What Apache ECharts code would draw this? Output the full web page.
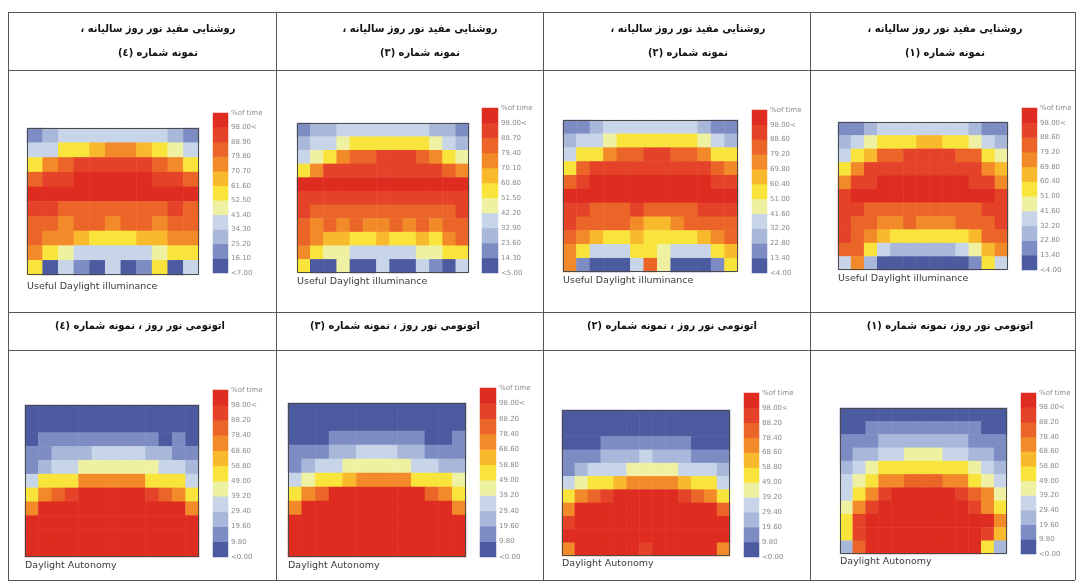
<!DOCTYPE html>
<html>
<head>
<meta charset="utf-8">
<script src="https://cdn.jsdelivr.net/npm/echarts@6/dist/echarts.min.js"></script>
<style>
html, body { margin: 0; padding: 0; background: #fff; }
#chart { width: 1078px; height: 582px; }
</style>
</head>
<body>
<div id="chart"></div>
<script>
// ---- colour scale, shared by every map (lowest band first) ----
const bandColors = ['#4c5aa0', '#7d8dc4', '#a9b8da', '#c8d5e8', '#eef0a2', '#f9e43b',
                    '#f8b92c', '#f28a2a', '#ec6528', '#e5422a', '#df2c20'];

// ---- legend scales (% of occupied hours), bottom to top ----
const udiScale4 = ['<7.00', '16.10', '25.20', '34.30', '43.40', '52.50', '61.60', '70.70', '79.80', '88.90', '98.00<'];
const udiScale3 = ['<5.00', '14.30', '23.60', '32.90', '42.20', '51.50', '60.80', '70.10', '79.40', '88.70', '98.00<'];
const udiScale2 = ['<4.00', '13.40', '22.80', '32.20', '41.60', '51.00', '60.40', '69.80', '79.20', '88.60', '98.00<'];
const udiScale1 = ['<4.00', '13.40', '22.80', '32.20', '41.60', '51.00', '60.40', '69.80', '79.20', '88.60', '98.00<'];
const daScale = ['<0.00', '9.80', '19.60', '29.40', '39.20', '49.00', '58.80', '68.60', '78.40', '88.20', '98.00<'];

// ---- Useful Daylight Illuminance, % of time per sensor (rows from window side) ----
const udi4 = [
  [21, 30, 39, 40, 41, 42, 41, 40, 38, 31, 20],
  [38, 41, 57, 59, 66, 73, 76, 68, 58, 49, 40],
  [58, 76, 85, 92, 94, 95, 95, 93, 86, 77, 60],
  [84, 92, 95, 99, 99, 99, 99, 99, 96, 92, 85],
  [99, 99, 99, 99, 99, 99, 99, 99, 99, 99, 99],
  [92, 91, 86, 85, 84, 84, 85, 84, 86, 90, 87],
  [85, 83, 78, 82, 81, 77, 81, 82, 78, 84, 83],
  [82, 77, 74, 68, 60, 58, 59, 67, 70, 76, 78],
  [74, 58, 48, 40, 38, 38, 39, 40, 48, 58, 57],
  [56, 6, 38, 20, 5, 40, 5, 21, 57, 6, 39]
];
const udi3 = [
  [19, 27, 30, 36, 38, 40, 39, 38, 37, 36, 30, 27, 18],
  [28, 37, 40, 48, 55, 57, 58, 57, 56, 53, 47, 39, 29],
  [38, 48, 57, 76, 84, 86, 90, 91, 89, 85, 76, 57, 47],
  [56, 77, 92, 94, 95, 96, 96, 96, 95, 94, 92, 84, 76],
  [99, 99, 99, 99, 99, 99, 99, 99, 99, 99, 99, 99, 99],
  [95, 96, 95, 95, 96, 96, 97, 96, 96, 95, 95, 96, 95],
  [89, 87, 84, 83, 82, 83, 84, 83, 82, 83, 84, 86, 89],
  [84, 78, 80, 78, 80, 77, 76, 80, 77, 80, 78, 82, 85],
  [82, 75, 67, 64, 58, 57, 63, 58, 57, 63, 59, 74, 81],
  [76, 56, 47, 45, 38, 37, 36, 37, 38, 44, 46, 55, 57],
  [55, 6, 7, 47, 5, 6, 38, 6, 7, 37, 18, 6, 38]
];
const udi2 = [
  [17, 20, 28, 36, 38, 39, 40, 39, 38, 36, 29, 19, 17],
  [28, 36, 38, 46, 54, 56, 57, 57, 56, 54, 46, 38, 29],
  [37, 55, 57, 75, 84, 86, 90, 90, 86, 84, 75, 56, 54],
  [56, 84, 92, 94, 95, 95, 96, 95, 95, 94, 92, 84, 75],
  [86, 94, 99, 99, 99, 99, 99, 99, 99, 99, 99, 94, 93],
  [99, 99, 99, 99, 99, 99, 99, 99, 99, 99, 99, 99, 99],
  [92, 91, 87, 86, 86, 89, 85, 85, 86, 87, 90, 91, 92],
  [90, 86, 85, 84, 83, 77, 68, 67, 76, 84, 85, 86, 87],
  [85, 75, 66, 58, 57, 62, 56, 55, 57, 58, 65, 75, 84],
  [76, 55, 38, 37, 36, 54, 55, 47, 37, 37, 39, 54, 63],
  [75, 17, 6, 5, 6, 37, 84, 47, 5, 5, 6, 17, 55]
];
const udi1 = [
  [17, 19, 28, 36, 38, 39, 40, 39, 38, 36, 28, 19, 17],
  [28, 36, 46, 54, 56, 57, 62, 61, 56, 54, 47, 37, 28],
  [37, 55, 64, 84, 86, 90, 91, 91, 90, 86, 84, 56, 46],
  [56, 76, 92, 95, 96, 96, 96, 96, 96, 95, 92, 76, 64],
  [75, 92, 94, 99, 99, 99, 99, 99, 99, 99, 94, 92, 76],
  [93, 99, 99, 99, 99, 99, 99, 99, 99, 99, 99, 99, 93],
  [92, 90, 86, 85, 84, 84, 85, 84, 84, 85, 86, 90, 91],
  [90, 86, 84, 78, 77, 80, 77, 76, 78, 80, 84, 86, 90],
  [89, 85, 75, 63, 56, 55, 55, 55, 56, 57, 64, 84, 85],
  [85, 84, 55, 37, 30, 28, 27, 28, 30, 37, 47, 64, 75],
  [36, 75, 28, 6, 5, 5, 5, 5, 5, 6, 17, 55, 37]
];

// ---- Daylight Autonomy, % of time per sensor ----
const da4 = [
  [1, 0, 0, 1, 1, 1, 1, 1, 1, 0, 0, 1, 1],
  [3, 3, 4, 4, 8, 4, 4, 4, 4, 3, 3, 3, 3],
  [8, 12, 13, 14, 14, 15, 15, 15, 14, 13, 9, 12, 8],
  [14, 17, 22, 25, 27, 31, 32, 32, 30, 26, 23, 17, 15],
  [16, 24, 32, 36, 41, 43, 44, 45, 43, 41, 36, 31, 24],
  [33, 52, 55, 56, 72, 74, 75, 74, 72, 56, 54, 51, 34],
  [53, 72, 83, 93, 99, 99, 100, 100, 99, 94, 84, 73, 54],
  [73, 99, 99, 99, 99, 99, 100, 100, 99, 99, 99, 99, 74],
  [100, 100, 100, 100, 100, 100, 100, 100, 100, 100, 100, 100, 100],
  [100, 100, 100, 100, 100, 100, 100, 100, 100, 100, 100, 100, 100],
  [100, 100, 100, 100, 100, 100, 100, 100, 100, 100, 100, 100, 100]
];
const da3 = [
  [1, 1, 0, 0, 1, 1, 1, 1, 1, 0, 0, 1, 1],
  [2, 3, 3, 4, 4, 5, 5, 5, 4, 4, 3, 3, 2],
  [6, 7, 8, 11, 12, 12, 13, 12, 12, 11, 8, 6, 10],
  [13, 15, 18, 22, 25, 30, 31, 30, 25, 22, 17, 15, 13],
  [17, 24, 31, 35, 40, 42, 43, 42, 40, 35, 31, 24, 20],
  [32, 43, 52, 55, 60, 70, 73, 72, 70, 55, 53, 52, 42],
  [53, 72, 82, 99, 99, 99, 100, 99, 99, 99, 83, 73, 54],
  [72, 99, 99, 99, 100, 100, 100, 100, 100, 99, 99, 99, 73],
  [100, 100, 100, 100, 100, 100, 100, 100, 100, 100, 100, 100, 100],
  [100, 100, 100, 100, 100, 100, 100, 100, 100, 100, 100, 100, 100],
  [100, 100, 100, 100, 100, 100, 100, 100, 100, 100, 100, 100, 100]
];
const da2 = [
  [0, 0, 1, 1, 1, 1, 1, 1, 1, 1, 1, 0, 0],
  [3, 3, 4, 5, 5, 6, 6, 6, 5, 5, 4, 3, 3],
  [5, 6, 8, 11, 12, 13, 13, 13, 12, 11, 8, 6, 5],
  [12, 15, 17, 22, 24, 27, 30, 27, 24, 22, 17, 15, 12],
  [16, 23, 31, 34, 37, 41, 43, 42, 40, 36, 33, 30, 22],
  [32, 42, 52, 55, 60, 70, 73, 73, 70, 62, 55, 52, 33],
  [53, 71, 82, 92, 99, 99, 99, 99, 99, 92, 83, 73, 54],
  [72, 99, 99, 99, 99, 99, 99, 99, 99, 99, 99, 99, 82],
  [92, 99, 99, 99, 99, 99, 99, 99, 99, 99, 99, 99, 99],
  [99, 99, 99, 99, 99, 99, 99, 99, 99, 99, 99, 99, 99],
  [72, 99, 99, 99, 99, 99, 91, 99, 99, 99, 99, 99, 73]
];
const da1 = [
  [1, 1, 1, 1, 1, 1, 1, 1, 1, 1, 1, 1, 1],
  [5, 7, 10, 11, 12, 13, 13, 13, 12, 11, 10, 7, 5],
  [12, 14, 17, 21, 22, 23, 24, 23, 22, 21, 17, 14, 12],
  [17, 22, 25, 31, 35, 40, 41, 40, 36, 31, 25, 22, 17],
  [24, 32, 41, 50, 52, 54, 55, 54, 52, 50, 42, 33, 24],
  [33, 41, 52, 70, 73, 80, 82, 80, 73, 70, 53, 42, 32],
  [34, 50, 72, 90, 99, 99, 99, 99, 99, 91, 82, 72, 42],
  [41, 71, 91, 99, 99, 99, 99, 99, 99, 99, 92, 72, 51],
  [52, 91, 99, 99, 99, 99, 99, 99, 99, 99, 99, 99, 72],
  [53, 92, 99, 99, 99, 99, 99, 99, 99, 99, 99, 90, 62],
  [24, 82, 99, 99, 99, 99, 99, 99, 99, 99, 99, 53, 23]
];

// ---- table text ----
const udiHeadLine1 = 'روشنایی مفید نور روز سالیانه ،';
const sampleNames = ['نمونه شماره (٤)', 'نمونه شماره (٣)', 'نمونه شماره (٢)', 'نمونه شماره (١)'];
const daHeads = ['اتونومی نور روز ، نمونه شماره (٤)', 'اتونومی نور روز ، نمونه شماره (٣)',
                 'اتونومی نور روز ، نمونه شماره (٢)', 'اتونومی نور روز، نمونه شماره (١)'];
const udiCaption = 'Useful Daylight illuminance';
const daCaption = 'Daylight Autonomy';
const legendHead = '%of time';

// ---- panels: which data goes with which scale ----
const panelData = [udi4, udi3, udi2, udi1, da4, da3, da2, da1];
const panelScales = [udiScale4, udiScale3, udiScale2, udiScale1, daScale, daScale, daScale, daScale];
const panelCaptions = [udiCaption, udiCaption, udiCaption, udiCaption, daCaption, daCaption, daCaption, daCaption];

// ---- page layout (pixels) ----
const mapBoxes = [
  { left: 27, top: 128, width: 172, height: 147 },
  { left: 297, top: 123, width: 172, height: 150 },
  { left: 563, top: 120, width: 175, height: 152 },
  { left: 838, top: 122, width: 170, height: 148 },
  { left: 25, top: 405, width: 174, height: 152 },
  { left: 288, top: 403, width: 178, height: 154 },
  { left: 562, top: 410, width: 168, height: 146 },
  { left: 840, top: 408, width: 167, height: 146 }
];
const barBoxes = [
  { left: 213, top: 113, width: 15, height: 160 },
  { left: 482, top: 108, width: 16, height: 165 },
  { left: 752, top: 110, width: 15, height: 163 },
  { left: 1022, top: 108, width: 15, height: 162 },
  { left: 213, top: 390, width: 15, height: 167 },
  { left: 480, top: 388, width: 16, height: 169 },
  { left: 744, top: 393, width: 15, height: 164 },
  { left: 1021, top: 393, width: 15, height: 161 }
];
const captionY = [287, 282, 281, 279, 566, 566, 564, 562];
const colX = [8, 276, 543, 810, 1075];
const rowY = [12, 70, 312, 350, 580];
const head1X = [158, 420, 688, 945];
const head2X = [140, 395, 672, 950];

const rtl = s => '\u202B' + s + '\u202C';

const grid = [], xAxis = [], yAxis = [], series = [], visualMap = [], graphic = [];

panelData.forEach((rows, p) => {
  const nRows = rows.length, nCols = rows[0].length;
  const scale = panelScales[p];
  const cuts = scale.slice(1).map(s => parseFloat(s));   // ten inner band edges

  // heat map of sensor values
  const g = grid.length;
  grid.push(Object.assign({ outerBoundsMode: 'none' }, mapBoxes[p]));
  xAxis.push({ type: 'category', gridIndex: g, show: false,
               data: Array.from({ length: nCols }, (_, i) => i) });
  yAxis.push({ type: 'category', gridIndex: g, show: false, inverse: true,
               data: Array.from({ length: nRows }, (_, i) => i) });
  const cells = [];
  rows.forEach((r, y) => r.forEach((v, x) => cells.push([x, y, v])));
  const sIdx = series.length;
  series.push({ type: 'heatmap', xAxisIndex: xAxis.length - 1, yAxisIndex: yAxis.length - 1,
                data: cells, itemStyle: { borderWidth: 0 } });
  const pieces = [{ lt: cuts[0], color: bandColors[0] }];
  for (let k = 1; k < cuts.length; k++) pieces.push({ gte: cuts[k - 1], lt: cuts[k], color: bandColors[k] });
  pieces.push({ gte: cuts[cuts.length - 1], color: bandColors[cuts.length] });
  visualMap.push({ type: 'piecewise', show: false, seriesIndex: sIdx, dimension: 2, pieces });

  // colour bar with its scale labels on the band edges
  const gb = grid.length;
  grid.push(Object.assign({ outerBoundsMode: 'none' }, barBoxes[p]));
  xAxis.push({ type: 'category', gridIndex: gb, show: false, data: [0] });
  yAxis.push({ type: 'category', gridIndex: gb, show: false,
               data: bandColors.map((_, k) => k) });
  const catY = yAxis.length - 1;
  yAxis.push({ type: 'value', gridIndex: gb, position: 'right', min: 0, max: bandColors.length, interval: 1,
               axisLine: { show: false }, axisTick: { show: false }, splitLine: { show: false },
               axisLabel: { show: true, margin: 3, fontSize: 7, color: '#8a8a8a', fontFamily: 'DejaVu Sans',
                            showMinLabel: true, showMaxLabel: true,
                            formatter: v => (v === bandColors.length ? legendHead : scale[v]) } });
  series.push({ type: 'heatmap', xAxisIndex: xAxis.length - 1, yAxisIndex: catY,
                data: bandColors.map((c, k) => ({ value: [0, k, k], itemStyle: { color: c } })) });

  // frame and caption
  const b = mapBoxes[p];
  graphic.push({ type: 'rect', z: 100, shape: { x: b.left + 0.5, y: b.top + 0.5, width: b.width - 1, height: b.height - 1 },
                 style: { fill: 'none', stroke: '#4a4a4a', lineWidth: 1 } });
  graphic.push({ type: 'text', z: 100, x: b.left, y: captionY[p],
                 style: { text: panelCaptions[p], font: '9.5px "DejaVu Sans"', fill: '#3a3a3a',
                          align: 'left', verticalAlign: 'middle' } });
});

// table rules
rowY.forEach(y => graphic.push({ type: 'line', z: 100,
  shape: { x1: colX[0], y1: y + 0.5, x2: colX[colX.length - 1], y2: y + 0.5 },
  style: { stroke: '#555', lineWidth: 1 } }));
colX.forEach(x => graphic.push({ type: 'line', z: 100,
  shape: { x1: x + 0.5, y1: rowY[0], x2: x + 0.5, y2: rowY[rowY.length - 1] },
  style: { stroke: '#555', lineWidth: 1 } }));

// column headings
const headFont = 'bold 11px "DejaVu Sans Condensed", "DejaVu Sans"';
for (let c = 0; c < 4; c++) {
  graphic.push({ type: 'text', z: 100, x: head1X[c], y: 29,
                 style: { text: rtl(udiHeadLine1), font: headFont, fill: '#111', align: 'center', verticalAlign: 'middle' } });
  graphic.push({ type: 'text', z: 100, x: head1X[c], y: 53,
                 style: { text: rtl(sampleNames[c]), font: headFont, fill: '#111', align: 'center', verticalAlign: 'middle' } });
  graphic.push({ type: 'text', z: 100, x: head2X[c], y: 326,
                 style: { text: rtl(daHeads[c]), font: headFont, fill: '#111', align: 'center', verticalAlign: 'middle' } });
}

const chart = echarts.init(document.getElementById('chart'), null, { renderer: 'canvas' });
chart.setOption({
  animation: false,
  backgroundColor: '#ffffff',
  grid, xAxis, yAxis, series, visualMap, graphic
});
</script>
</body>
</html>
